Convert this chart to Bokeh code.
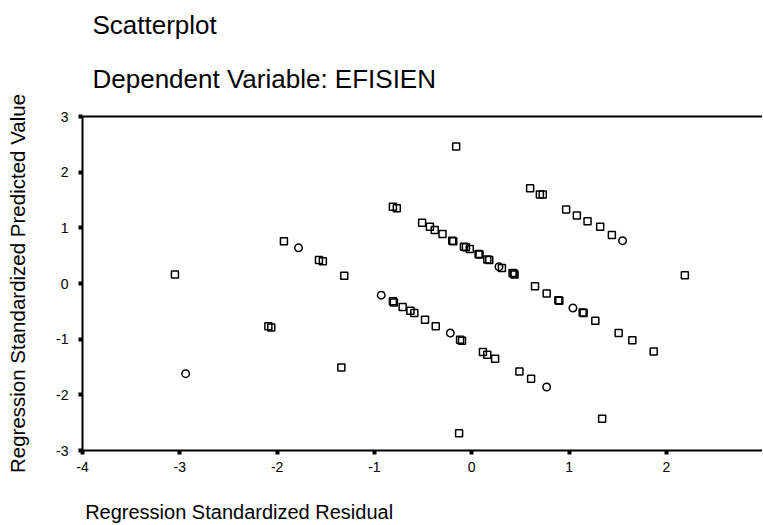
from bokeh.plotting import figure
from bokeh.models import Range1d, LinearAxis, FixedTicker, Title
from bokeh.embed import file_html
from bokeh.resources import INLINE

# ---- data (x = standardized residual, y = standardized predicted value)
sq_resid = [-3.05, -1.93, -2.09, -2.06, -1.57, -1.53, -1.31, -1.34, -0.81, -0.77,
            -0.16, 0.60, 0.70, 0.73, 0.97, 1.08, 1.19, 1.32, 1.44,
            -0.51, -0.43, -0.38, -0.30, -0.20, -0.19, -0.08, -0.06, -0.02,
            0.07, 0.08, 0.16, 0.18, 0.31, 0.42, 0.43, 0.44,
            0.65, 0.77, 0.89, 0.90, 1.14, 1.15, 1.27, 1.51, 1.65, 1.87, 2.19,
            -0.81, -0.80, -0.71, -0.63, -0.59, -0.48, -0.37, -0.12, -0.10,
            0.115, 0.16, 0.24, 0.49, 0.61, 1.34, -0.13]
sq_pred = [0.16, 0.76, -0.77, -0.79, 0.42, 0.40, 0.14, -1.51, 1.38, 1.35,
           2.46, 1.71, 1.60, 1.60, 1.33, 1.22, 1.12, 1.02, 0.87,
           1.09, 1.02, 0.96, 0.89, 0.77, 0.76, 0.66, 0.65, 0.62,
           0.53, 0.52, 0.43, 0.42, 0.28, 0.19, 0.18, 0.16,
           -0.05, -0.18, -0.30, -0.31, -0.52, -0.53, -0.67, -0.89, -1.02, -1.22, 0.15,
           -0.32, -0.34, -0.42, -0.49, -0.53, -0.65, -0.77, -1.01, -1.03,
           -1.23, -1.28, -1.35, -1.58, -1.71, -2.43, -2.69]
ci_resid = [-2.94, -1.78, -0.93, 1.04, 1.55, 0.77, -0.22, 0.28]
ci_pred = [-1.62, 0.64, -0.21, -0.44, 0.77, -1.86, -0.89, 0.30]

x_ticks = [-4, -3, -2, -1, 0, 1, 2]
x_tick_labels = ["-4", "-3", "-2", "-1", "0", "1", "2"]
y_ticks = [-3, -2, -1, 0, 1, 2, 3]
y_tick_labels = ["-3", "-2", "-1", "0", "1", "2", "3"]

title_main = "Scatterplot"
title_sub = "Dependent Variable: EFISIEN"
x_title = "Regression Standardized Residual"
y_title = "Regression Standardized Predicted Value"

FONT = "Liberation Sans"

p = figure(width=762, height=525, output_backend="svg", toolbar_location=None,
           x_range=Range1d(-4, 2.988), y_range=Range1d(-3, 3),
           min_border_left=82, min_border_right=0, min_border_top=116,
           min_border_bottom=74, background_fill_color="white",
           border_fill_color="white")
p.outline_line_color = None
p.xgrid.visible = False
p.ygrid.visible = False

xa, ya = p.xaxis[0], p.yaxis[0]
for ax in (xa, ya):
    ax.axis_line_width = 2
    ax.axis_line_color = "black"
    ax.major_tick_out = 4
    ax.major_tick_in = 0
    ax.major_tick_line_width = 4
    ax.major_tick_line_color = "black"
    ax.minor_tick_line_color = None
    ax.major_label_text_font = FONT
    ax.major_label_text_font_size = "14px"
    ax.major_label_text_color = "black"
    ax.axis_label_text_font = FONT
    ax.axis_label_text_font_style = "normal"
    ax.axis_label_text_color = "black"

xa.ticker = FixedTicker(ticks=x_ticks)
ya.ticker = FixedTicker(ticks=y_ticks)
xa.major_label_overrides = dict(zip(x_ticks, x_tick_labels))
ya.major_label_overrides = dict(zip(y_ticks, y_tick_labels))
xa.major_label_standoff = 7
ya.major_label_standoff = 10

# x title is centred by Bokeh; a blank tail makes the words start at the
# axis origin while the whole text box stays inside the canvas.
xa.axis_label = x_title + "\u00a0" * 66
xa.axis_label_text_font_size = "20px"
xa.axis_label_standoff = 26

ya.axis_label = y_title
ya.axis_label_text_font_size = "20.5px"
ya.axis_label_standoff = 24

top = LinearAxis(ticker=FixedTicker(ticks=[]), axis_line_width=2, axis_line_color="black",
                 major_tick_out=0, major_tick_in=0, minor_tick_out=0, minor_tick_in=0)
p.add_layout(top, "above")

p.add_layout(Title(text=title_sub, align="left", offset=10, standoff=45,
                   vertical_align="bottom", text_font=FONT, text_font_size="26px",
                   text_font_style="normal", text_color="black"), "above")
p.add_layout(Title(text=title_main, align="left", offset=10, standoff=0,
                   vertical_align="bottom", text_font=FONT, text_font_size="26px",
                   text_font_style="normal", text_color="black"), "above")

p.scatter(sq_resid, sq_pred, marker="square", size=7, fill_color=None,
          line_color="black", line_width=1.5)
p.scatter(ci_resid, ci_pred, marker="circle", size=7.5, fill_color=None,
          line_color="black", line_width=1.5)

open("out.html", "w").write(file_html(p, INLINE))
